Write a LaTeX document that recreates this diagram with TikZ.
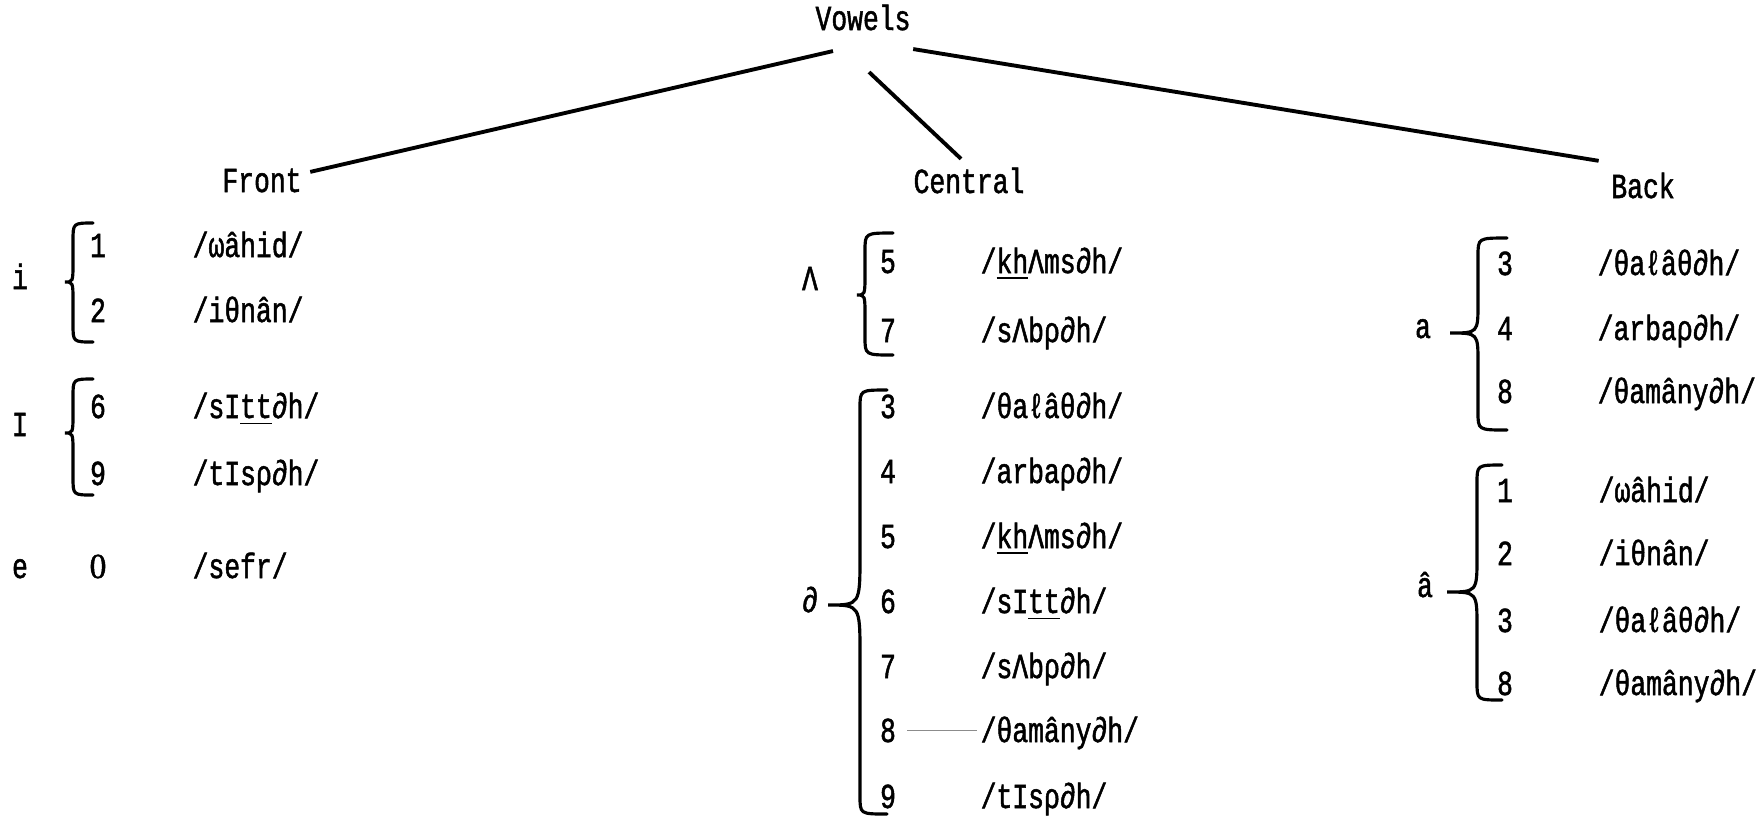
\documentclass[tikz,border=0pt]{standalone}
\usepackage{fontspec}
\setmainfont{Liberation Mono}[FakeStretch=0.75,FakeBold=1.4]
\newfontfamily\zerofont{Liberation Serif}[FakeBold=1.4,FakeStretch=0.95]
\usetikzlibrary{positioning}
\tikzset{
  branch/.style={draw=black,line width=1.1pt},
  bracket/.style={draw=black,line width=0.9pt,line cap=round},
  guide/.style={draw=black!45,line width=0.3pt},
  headtext/.style={anchor=base,inner sep=0pt},
  numtext/.style={anchor=base,inner sep=0pt},
  wordtext/.style={anchor=base west,inner sep=0pt},
  labeltext/.style={anchor=base,inner sep=0pt},
}
\newcommand{\vrow}[6]{%
  \node[numtext] (#1n) at (#2,#4) {#5};
  \node[wordtext] (#1w) at (#3,#4) {#6};}
\newcommand{\vbrace}[7]{%
  \draw[bracket] (#1,#2) .. controls (#4,#2) .. (#4,{#2+18})
    -- (#4,{#6-#7}) .. controls (#4,#6) .. (#5,#6)
    .. controls (#4,#6) .. (#4,{#6+#7})
    -- (#4,{#3-18}) .. controls (#4,#3) .. (#1,#3);}
\newcommand{\schwa}{∂}

\begin{document}
\begin{tikzpicture}[x=0.01cm,y=-0.01cm,font=\fontsize{10}{12}\selectfont]
  \useasboundingbox (0,0) rectangle (1758,817);
  \node[headtext] (vowels) at (863,30) {Vowels};
  \node[headtext] (front) at (262,192) {Front};
  \node[headtext] (central) at (969,193) {Central};
  \node[headtext] (back) at (1643,198) {Back};
  \draw[branch] ([shift={(-30,20)}]vowels.south) -- ([shift={(8,4)}]front.north east);
  \draw[branch] ([shift={(6,41)}]vowels.south) -- ([shift={(-8,-8)}]central.north);
  \draw[branch] ([shift={(2,18)}]vowels.south east) -- ([shift={(-12,-11)}]back.north west);

  \node[labeltext] (fi) at (20,289) {i};
  \node[labeltext] (fI) at (20,436) {I};
  \node[labeltext] (fe) at (20,578) {e};
  \vbrace{93}{223}{342}{73}{65}{282}{20}
  \vbrace{93}{379}{495}{73}{65}{433}{20}
  \vrow{f1}{98}{192}{257}{1}{/ωâhid/}
  \vrow{f2}{98}{192}{322}{2}{/iθnân/}
  \vrow{f6}{98}{192}{418}{6}{/sI\underline{tt}\schwa h/}
  \vrow{f9}{98}{192}{485}{9}{/tIsρ\schwa h/}
  \vrow{f0}{98}{192}{578}{{\zerofont 0}}{/sefr/}

  \node[labeltext] (clam) at (810,290) {Λ};
  \node[labeltext] (cschwa) at (810,612) {\schwa};
  \vbrace{893}{233}{355}{865}{857}{295}{22}
  \vbrace{887}{390}{814}{860}{828}{605}{50}
  \vrow{ca5}{888}{980}{273}{5}{/\underline{kh}Λms\schwa h/}
  \vrow{ca7}{888}{980}{342}{7}{/sΛbρ\schwa h/}
  \vrow{cs3}{888}{980}{418}{3}{/θaℓâθ\schwa h/}
  \vrow{cs4}{888}{980}{483}{4}{/arbaρ\schwa h/}
  \vrow{cs5}{888}{980}{548}{5}{/\underline{kh}Λms\schwa h/}
  \vrow{cs6}{888}{980}{613}{6}{/sI\underline{tt}\schwa h/}
  \vrow{cs7}{888}{980}{678}{7}{/sΛbρ\schwa h/}
  \vrow{cs8}{888}{980}{742}{8}{/θamâny\schwa h/}
  \vrow{cs9}{888}{980}{808}{9}{/tIsρ\schwa h/}
  \draw[guide] ([xshift=3pt]cs8n.east) -- ([xshift=-1pt]cs8n.east -| cs8w.west);

  \node[labeltext] (ba) at (1423,338) {a};
  \node[labeltext] (bahat) at (1425,597) {â};
  \vbrace{1507}{238}{430}{1478}{1450}{333}{30}
  \vbrace{1502}{465}{700}{1477}{1447}{592}{35}
  \vrow{ba3}{1505}{1597}{275}{3}{/θaℓâθ\schwa h/}
  \vrow{ba4}{1505}{1597}{340}{4}{/arbaρ\schwa h/}
  \vrow{ba8}{1505}{1597}{403}{8}{/θamâny\schwa h/}
  \vrow{bh1}{1505}{1598}{502}{1}{/ωâhid/}
  \vrow{bh2}{1505}{1598}{565}{2}{/iθnân/}
  \vrow{bh3}{1505}{1598}{632}{3}{/θaℓâθ\schwa h/}
  \vrow{bh8}{1505}{1598}{695}{8}{/θamâny\schwa h/}
\end{tikzpicture}
\end{document}
